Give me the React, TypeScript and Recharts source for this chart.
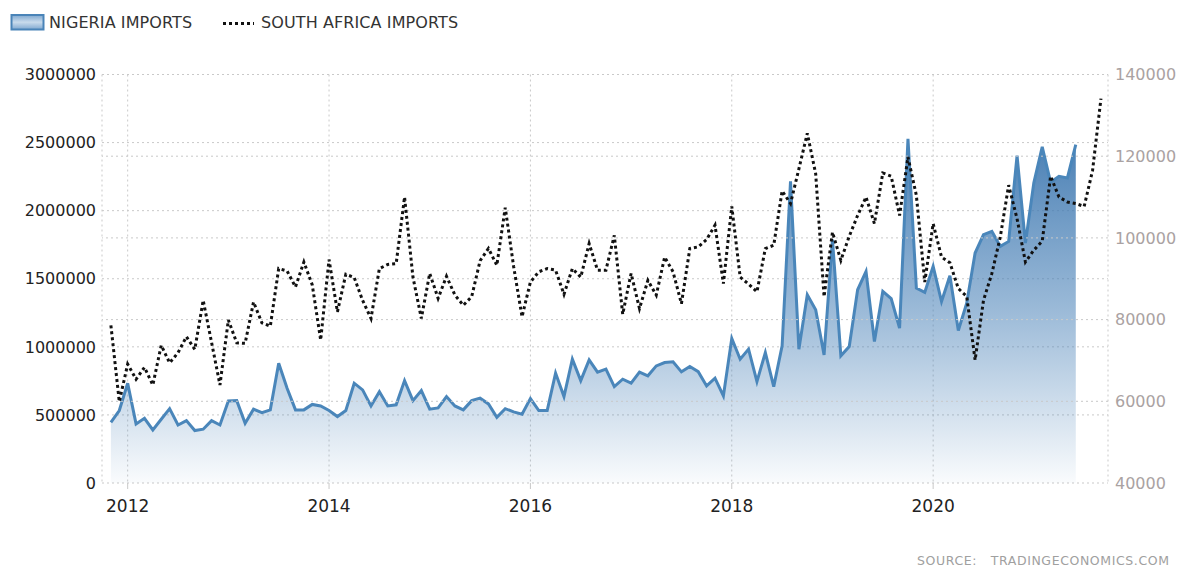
import React from 'react';
import { ComposedChart, Area, Line, XAxis, YAxis, CartesianGrid, ReferenceLine } from 'recharts';

// Monthly values, Nov 2011 onwards
const nigeriaImports = [
  446000, 532000,
  733000, 434000, 475000, 390000, 468000, 546000, 426000, 458000, 385000, 395000, 458000, 426000,
  603000, 605000, 439000, 542000, 517000, 537000, 880000, 696000, 537000, 537000, 577000, 566000,
  532000, 488000, 532000, 733000, 684000, 566000, 671000, 566000, 574000, 752000, 605000, 679000,
  542000, 551000, 635000, 566000, 537000, 605000, 623000, 581000, 483000, 546000, 522000, 505000,
  620000, 532000, 532000, 807000, 635000, 909000, 752000, 904000, 814000, 836000, 708000, 762000,
  733000, 814000, 787000, 860000, 885000, 890000, 816000, 855000, 818000, 713000, 770000, 640000,
  1061000, 909000, 983000, 745000, 958000, 708000, 1007000, 2215000, 983000, 1382000, 1272000, 941000,
  1787000, 934000, 1002000, 1419000, 1554000, 1039000, 1407000, 1355000, 1137000, 2527000, 1432000, 1400000,
  1591000, 1333000, 1522000, 1120000, 1321000, 1689000, 1824000, 1848000, 1738000, 1774000, 2404000, 1762000,
  2204000, 2468000, 2208000, 2252000, 2240000, 2485000,
];

const southAfricaImports = [
  78600, 59900,
  69100, 65400, 68300, 64000, 73700, 69400, 71900, 75800, 72700, 84700, 74400, 64000,
  79900, 74300, 74200, 84300, 79200, 78400, 92500, 91900, 88000, 94100, 88500, 75000,
  94700, 81900, 91100, 90300, 84700, 80300, 92500, 93500, 93700, 110000, 90400, 80300,
  91300, 85200, 90600, 86000, 83500, 85600, 94400, 97400, 93300, 107400, 93000, 80700,
  89200, 91700, 92500, 92100, 86200, 92500, 90400, 98600, 92100, 92100, 100600, 81300,
  91300, 82700, 89600, 86000, 95300, 91700, 83900, 97400, 97800, 99600, 103100, 88800,
  107700, 90400, 88700, 86800, 97400, 98200, 111500, 108400, 116900, 125600, 115700, 85600,
  101400, 94500, 100400, 105500, 110000, 103500, 115900, 115100, 105500, 119800, 110400, 89200,
  103500, 95300, 93900, 87600, 85700, 70100, 84700, 91300, 100200, 112900, 104700, 94100,
  97000, 99200, 115100, 110000, 108800, 108400, 107700, 116500, 134100,
];

// month index relative to Jan 2012 of the first value (Nov 2011)
const firstMonthIndex = -2;
const xTicks = [0, 24, 48, 72, 96];
const xTickLabels = ['2012', '2014', '2016', '2018', '2020'];
const leftTicks = [0, 500000, 1000000, 1500000, 2000000, 2500000, 3000000];
const rightTicks = [40000, 60000, 80000, 100000, 120000, 140000];

const data = southAfricaImports.map((sa, i) => ({
  m: firstMonthIndex + i,
  nigeria: i < nigeriaImports.length ? nigeriaImports[i] : null,
  sa,
}));

const FONT = '"DejaVu Sans", Verdana, sans-serif';
const GRID = '#c9c9c9';

export default function App() {
  return (
    <div style={{ position: 'fixed', left: 0, top: 0, width: 1179, height: 567, background: '#fff', overflow: 'hidden' }}>
      <div style={{ position: 'absolute', left: 0, top: 0 }}>
        <svg width={300} height={40} style={{ position: 'absolute', left: 0, top: 0 }}>
          <defs>
            <linearGradient id="swatchGrad" x1="0" y1="0" x2="0" y2="1">
              <stop offset="0%" stopColor="#7fa8d0" />
              <stop offset="50%" stopColor="#c9dbec" />
              <stop offset="100%" stopColor="#7fa8d0" />
            </linearGradient>
          </defs>
          <rect x={11.5} y={15} width={32} height={14.5} fill="url(#swatchGrad)" stroke="#4a84b8" strokeWidth={2} />
          <line x1={223} y1={23.5} x2={254} y2={23.5} stroke="#111" strokeWidth={3} strokeDasharray="3 3" />
        </svg>
        <div style={{ position: 'absolute', left: 49, top: 13, fontFamily: FONT, fontSize: 16, color: '#333', whiteSpace: 'nowrap', letterSpacing: 0.1 }}>
          NIGERIA IMPORTS
        </div>
        <div style={{ position: 'absolute', left: 261, top: 13, fontFamily: FONT, fontSize: 16, color: '#333', whiteSpace: 'nowrap', letterSpacing: 0.1 }}>
          SOUTH AFRICA IMPORTS
        </div>
      </div>
      <div style={{ position: 'absolute', left: 0, top: 0 }}>
        <ComposedChart width={1179} height={567} data={data} margin={{ top: 74.5, right: 0, bottom: 54, left: 0 }}>
          <defs>
            <linearGradient id="ngGrad" x1="0" y1="0" x2="0" y2="1">
              <stop offset="0%" stopColor="#3f78b0" stopOpacity={0.95} />
              <stop offset="50%" stopColor="#4a82b8" stopOpacity={0.55} />
              <stop offset="100%" stopColor="#4a82b8" stopOpacity={0.03} />
            </linearGradient>
          </defs>
          <CartesianGrid stroke={GRID} strokeDasharray="2 3" vertical={true} horizontal={true} yAxisId="left" />
          {rightTicks.slice(1, -1).map((v) => (
            <ReferenceLine key={v} yAxisId="right" y={v} stroke={GRID} strokeDasharray="2 3" />
          ))}
          <XAxis
            dataKey="m"
            type="number"
            domain={[-3.06, 116.84]}
            ticks={xTicks}
            tickFormatter={(v: number) => xTickLabels[xTicks.indexOf(v)]}
            axisLine={false}
            tickLine={{ stroke: '#c9c9c9' }}
            tickSize={6}
            tickMargin={11}
            height={30}
            tick={{ fontSize: 17, fill: '#222', fontFamily: FONT }}
            allowDataOverflow
          />
          <YAxis
            yAxisId="left"
            orientation="left"
            domain={[0, 3000000]}
            ticks={leftTicks}
            width={102}
            axisLine={false}
            tickLine={false}
            tickSize={0}
            tickMargin={6}
            interval={0}
            tick={{ fontSize: 16, fill: '#222', fontFamily: FONT }}
          />
          <YAxis
            yAxisId="right"
            orientation="right"
            domain={[40000, 140000]}
            ticks={rightTicks}
            width={71}
            axisLine={false}
            tickLine={false}
            tickSize={0}
            tickMargin={7}
            interval={0}
            tick={{ fontSize: 16, fill: '#aaa2a2', fontFamily: FONT }}
          />
          <Area
            yAxisId="left"
            type="linear"
            dataKey="nigeria"
            stroke="#4a86ba"
            strokeWidth={3}
            fill="url(#ngGrad)"
            fillOpacity={1}
            isAnimationActive={false}
            dot={false}
            activeDot={false}
          />
          <Line
            yAxisId="right"
            type="linear"
            dataKey="sa"
            stroke="#111"
            strokeWidth={3}
            strokeDasharray="3 3"
            dot={false}
            activeDot={false}
            isAnimationActive={false}
          />
        </ComposedChart>
      </div>
      <div style={{ position: 'absolute', left: 917, top: 555, height: 11, lineHeight: '11px', fontFamily: FONT, fontSize: 12.5, color: '#a0a0a0', whiteSpace: 'nowrap', letterSpacing: 0.6 }}>
        SOURCE:&nbsp;&nbsp;&nbsp;TRADINGECONOMICS.COM
      </div>
    </div>
  );
}
